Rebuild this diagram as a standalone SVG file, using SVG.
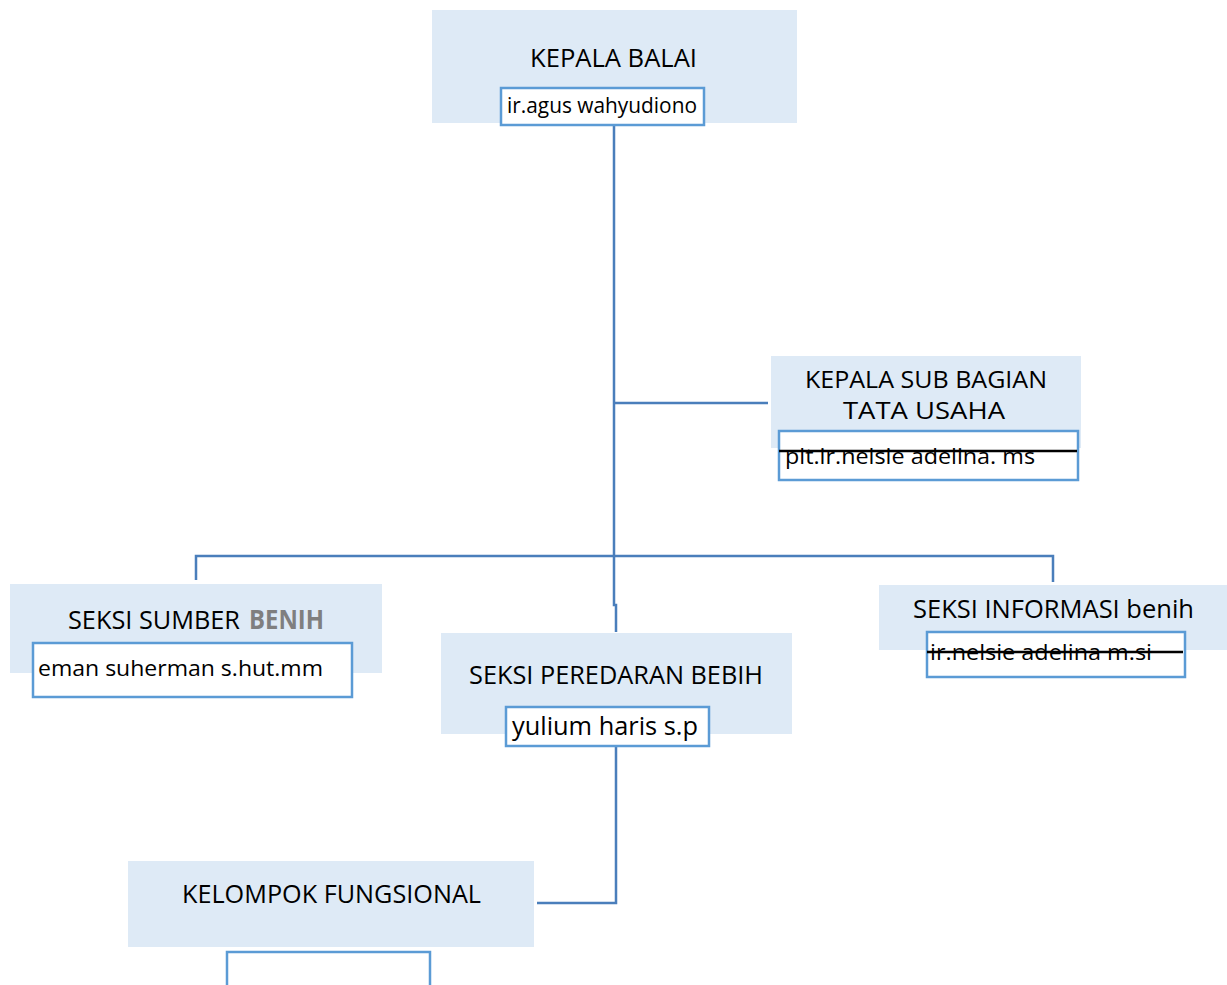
<svg xmlns="http://www.w3.org/2000/svg" width="1227" height="985" viewBox="0 0 1227 985">
<style>
.box{fill:#deeaf6}
.nm{fill:#ffffff;stroke:#5b9bd5;stroke-width:2.5}
.t{font-family:"Open Sans","Noto Sans",sans-serif;fill:#000000}
.cap{font-size:26px}
.cap2{font-size:23.5px}
.name{font-size:22.5px}
.strike{stroke:#000000;stroke-width:2.5}
.con{fill:none;stroke:#4a7ebb;stroke-width:2.5}
</style>
<rect width="1227" height="985" fill="#ffffff"/>
<g id="connectors">
<path class="con" d="M614 125 V605 H616 V632"/>
<path class="con" d="M614 403 H768"/>
<path class="con" d="M196 580 V556 H1053 V582"/>
<path class="con" d="M616 746 V903 H537"/>
</g>
<g id="kepala-balai">
<rect class="box" x="432" y="10" width="365" height="113"/>
<text class="t cap" x="530" y="67" textLength="167" lengthAdjust="spacingAndGlyphs">KEPALA BALAI</text>
<rect class="nm" x="501" y="88" width="203" height="37"/>
<text class="t name" x="507" y="113" textLength="190" lengthAdjust="spacingAndGlyphs">ir.agus wahyudiono</text>
</g>
<g id="kepala-sub-bagian">
<rect class="box" x="771" y="356" width="310" height="92"/>
<text class="t cap2" x="805" y="388" textLength="242" lengthAdjust="spacingAndGlyphs">KEPALA SUB BAGIAN</text>
<text class="t cap2" x="843" y="419" textLength="162" lengthAdjust="spacingAndGlyphs">TATA USAHA</text>
<rect class="nm" x="779" y="431" width="299" height="49"/>
<text class="t name" x="785" y="464" textLength="250" lengthAdjust="spacingAndGlyphs">plt.ir.nelsie adelina. ms</text>
<line class="strike" x1="779" y1="451" x2="1077" y2="451"/>
</g>
<g id="seksi-sumber-benih">
<rect class="box" x="10" y="584" width="372" height="89"/>
<text class="t cap" x="68" y="629" textLength="172" lengthAdjust="spacingAndGlyphs">SEKSI SUMBER</text>
<text class="t cap" x="249" y="629" textLength="75" lengthAdjust="spacingAndGlyphs" style="font-weight:bold;fill:#7f7f7f">BENIH</text>
<rect class="nm" x="33" y="643" width="319" height="54"/>
<text class="t name" x="38" y="676" textLength="285" lengthAdjust="spacingAndGlyphs">eman suherman s.hut.mm</text>
</g>
<g id="seksi-peredaran">
<rect class="box" x="441" y="633" width="351" height="101"/>
<text class="t cap" x="469" y="684" textLength="294" lengthAdjust="spacingAndGlyphs">SEKSI PEREDARAN BEBIH</text>
<rect class="nm" x="506" y="707" width="203" height="39"/>
<text class="t" x="512" y="735" style="font-size:26px" textLength="186" lengthAdjust="spacingAndGlyphs">yulium haris s.p</text>
</g>
<g id="seksi-informasi">
<rect class="box" x="879" y="585" width="348" height="65"/>
<text class="t cap" x="913" y="618" textLength="281" lengthAdjust="spacingAndGlyphs">SEKSI INFORMASI benih</text>
<rect class="nm" x="927" y="632" width="258" height="45"/>
<text class="t name" x="930" y="660" textLength="222" lengthAdjust="spacingAndGlyphs">ir.nelsie adelina m.si</text>
<line class="strike" x1="927" y1="652" x2="1183" y2="652"/>
</g>
<g id="kelompok-fungsional">
<rect class="box" x="128" y="861" width="406" height="86"/>
<text class="t cap" x="182" y="903" textLength="299" lengthAdjust="spacingAndGlyphs">KELOMPOK FUNGSIONAL</text>
<rect class="nm" x="227" y="952" width="203" height="45"/>
</g>
</svg>
